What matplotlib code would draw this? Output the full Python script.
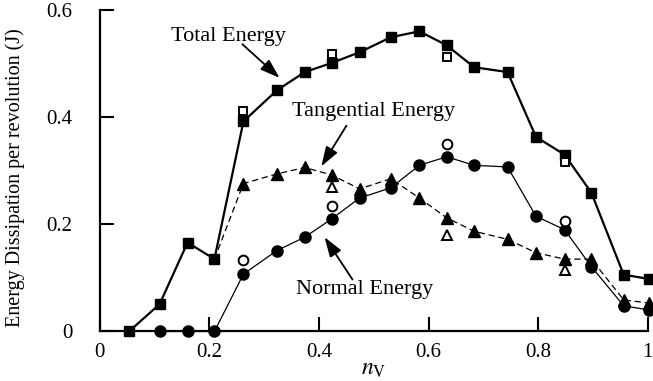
import matplotlib
matplotlib.use('Agg')
import matplotlib.pyplot as plt

plt.rcParams['font.family'] = ['Liberation Serif', 'DejaVu Serif']
plt.rcParams['mathtext.fontset'] = 'stix'

# rotation-speed ratio grid shared by the three curves
nv = [0.053, 0.109, 0.160, 0.209, 0.262, 0.323, 0.374, 0.423, 0.474, 0.531,
      0.583, 0.633, 0.683, 0.744, 0.796, 0.848, 0.897, 0.956, 1.002]

total = [0.0, 0.051, 0.166, 0.135, 0.392, 0.450, 0.484, 0.501, 0.521, 0.549,
         0.560, 0.534, 0.493, 0.484, 0.363, 0.330, 0.259, 0.106, 0.098]
normal = [0.0, 0.0, 0.0, 0.107, 0.151, 0.176, 0.210, 0.249, 0.268,
          0.310, 0.326, 0.310, 0.307, 0.215, 0.190, 0.121, 0.048, 0.040]
tangential = [0.276, 0.294, 0.306, 0.292, 0.266, 0.285, 0.249, 0.212,
              0.187, 0.172, 0.147, 0.135, 0.135, 0.059, 0.053]

# open symbols (second data set)
nv_open = [0.262, 0.423, 0.633, 0.848]
total_open = [0.411, 0.517, 0.512, 0.316]
normal_open = [0.134, 0.235, 0.350, 0.207]
nv_open_t = [0.423, 0.633, 0.848]
tangential_open = [0.270, 0.180, 0.115]

fig = plt.figure(figsize=(6.53, 3.81), dpi=100)
ax = fig.add_axes([0.153, 0.130, 0.839, 0.844])

# total
ax.plot(nv, total, color='black', lw=1.6, marker='s', ms=6.5, clip_on=False, zorder=3)
ax.plot(nv_open, total_open, ls='none', marker='s', ms=6, mfc='white', mec='black',
        mew=1.4, clip_on=False, zorder=3)

# normal
ax.plot(nv[1:], normal, color='black', lw=0.9, marker='o', ms=8, clip_on=False, zorder=3)
ax.plot(nv_open, normal_open, ls='none', marker='o', ms=7, mfc='white', mec='black',
        mew=1.4, clip_on=False, zorder=3)

# tangential (dashed line starts where normal energy is still zero)
ax.plot(nv[3:], [total[3]] + tangential, color='black', lw=0.9, ls=(0, (5, 3)),
        clip_on=False, zorder=2)
ax.plot(nv[4:], tangential, ls='none', marker='^', ms=8, color='black',
        clip_on=False, zorder=3)
ax.plot(nv_open_t, tangential_open, ls='none', marker='^', ms=7, mfc='white',
        mec='black', mew=1.4, clip_on=False, zorder=3)

arrow = dict(arrowstyle='-|>,head_length=0.6,head_width=0.2', color='black',
             lw=1.3, shrinkA=0, shrinkB=0, mutation_scale=20)
ax.annotate('', xy=(0.328, 0.473), xytext=(0.260, 0.536), arrowprops=arrow)
ax.text(0.234, 0.551, 'Total Energy', ha='center', va='center', fontsize=16)
ax.annotate('', xy=(0.404, 0.308), xytext=(0.450, 0.384), arrowprops=arrow)
ax.text(0.500, 0.411, 'Tangential Energy', ha='center', va='center', fontsize=16)
ax.annotate('', xy=(0.410, 0.176), xytext=(0.461, 0.097), arrowprops=arrow)
ax.text(0.483, 0.079, 'Normal Energy', ha='center', va='center', fontsize=16)

ax.set_xlim(0, 1)
ax.set_ylim(0, 0.6)
ax.set_xticks([0, 0.2, 0.4, 0.6, 0.8, 1.0])
ax.set_xticklabels(['0', '0.2', '0.4', '0.6', '0.8', '1'])
ax.set_yticks([0, 0.2, 0.4, 0.6])
ax.set_yticklabels(['0', '0.2', '0.4', '0.6'])
ax.tick_params(direction='in', length=10, width=1.5, labelsize=15)
ax.tick_params(axis='x', pad=8)
ax.tick_params(axis='y', pad=20)
for side in ['top', 'right']:
    ax.spines[side].set_visible(False)
for side in ['left', 'bottom']:
    ax.spines[side].set_linewidth(1.6)

ax.set_ylabel('Energy Dissipation per revolution (J)', fontsize=14.5)
ax.yaxis.set_label_coords(-0.137, 0.479)
ax.set_xlabel(r'$n_{\mathrm{V}}$', fontsize=17)
ax.xaxis.set_label_coords(0.5, -0.085)

fig.savefig('out.png', dpi=100)
